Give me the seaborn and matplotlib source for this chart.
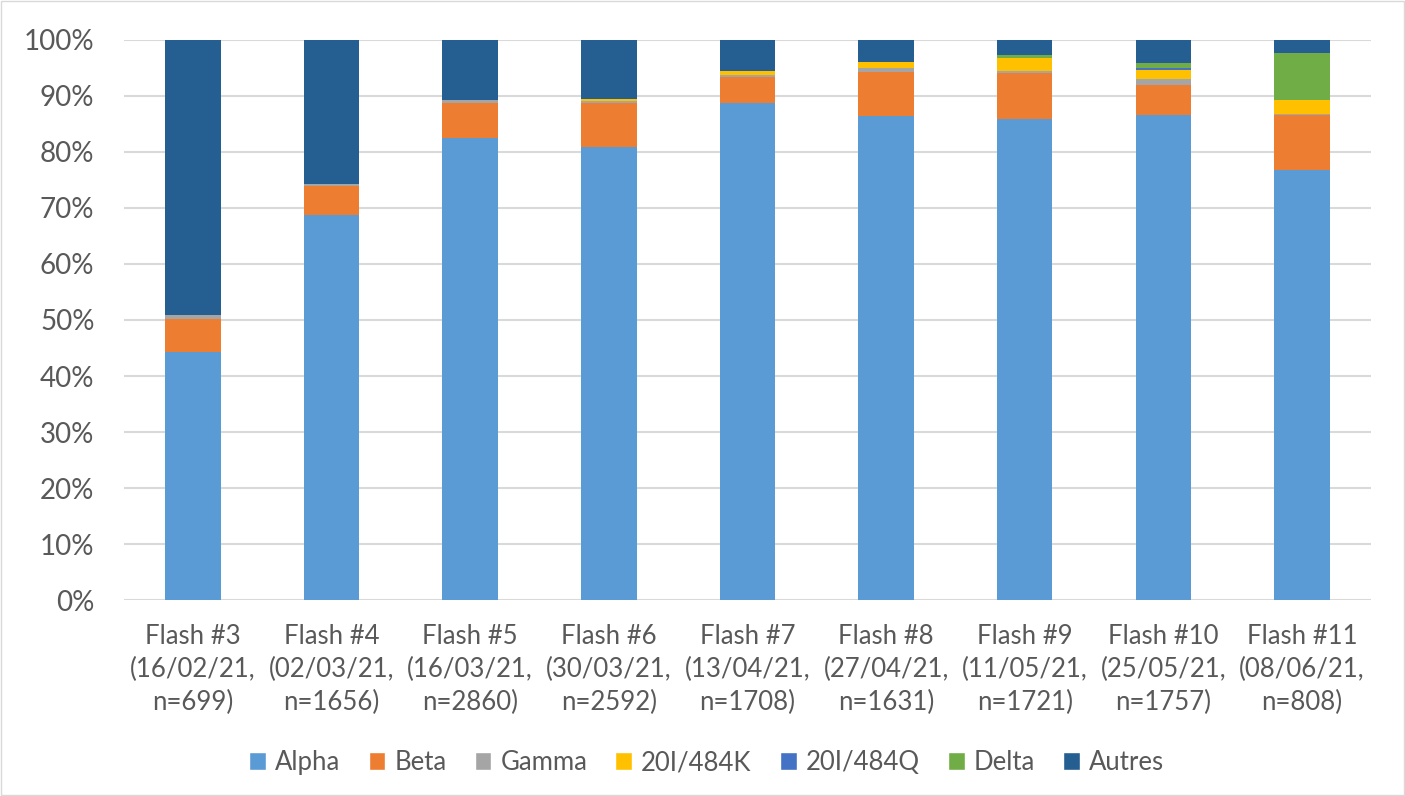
import numpy as np
import pandas as pd
import matplotlib
matplotlib.use('Agg')
import matplotlib.pyplot as plt
from matplotlib.patches import Patch
import seaborn as sns

# Values (% of sequences per flash survey)
flashes = ['Flash #3\n(16/02/21,\nn=699)', 'Flash #4\n(02/03/21,\nn=1656)', 'Flash #5\n(16/03/21,\nn=2860)',
           'Flash #6\n(30/03/21,\nn=2592)', 'Flash #7\n(13/04/21,\nn=1708)', 'Flash #8\n(27/04/21,\nn=1631)',
           'Flash #9\n(11/05/21,\nn=1721)', 'Flash #10\n(25/05/21,\nn=1757)', 'Flash #11\n(08/06/21,\nn=808)']
variants = ['Alpha', 'Beta', 'Gamma', '20I/484K', '20I/484Q', 'Delta', 'Autres']
alpha = [44.3, 68.7, 82.4, 80.8, 88.7, 86.4, 85.9, 86.5, 76.8]
beta = [5.9, 5.2, 6.4, 7.9, 4.6, 7.8, 8.1, 5.5, 9.7]
gamma = [0.7, 0.3, 0.5, 0.3, 0.4, 0.7, 0.5, 1.0, 0.3]
k484 = [0.0, 0.0, 0.0, 0.4, 0.8, 1.2, 2.3, 1.6, 2.4]
q484 = [0.0, 0.0, 0.0, 0.0, 0.0, 0.0, 0.0, 0.3, 0.0]
delta = [0.0, 0.0, 0.0, 0.0, 0.0, 0.0, 0.4, 1.0, 8.5]
autres = [49.1, 25.8, 10.7, 10.6, 5.5, 3.9, 2.8, 4.1, 2.3]
colors = ['#5B9BD5', '#ED7D31', '#A5A5A5', '#FFC000', '#4472C4', '#70AD47', '#255E91']

df = pd.DataFrame({'flash': flashes, 'Alpha': alpha, 'Beta': beta, 'Gamma': gamma,
                   '20I/484K': k484, '20I/484Q': q484, 'Delta': delta, 'Autres': autres})
# normalise to 100 and stack
tot = df[variants].sum(axis=1)
cum = df[variants].div(tot, axis=0).cumsum(axis=1)

sns.set_style('white')
plt.rcParams['font.family'] = ['Lato', 'DejaVu Sans']

fig = plt.figure(figsize=(14.05, 7.96), dpi=100)
ax = fig.add_axes([0.088, 0.246, 0.888, 0.704])

# draw from the top of the stack down so lower segments overlay
for v, c in reversed(list(zip(variants, colors))):
    sns.barplot(x=df['flash'], y=cum[v], color=c, width=0.4, linewidth=0, saturation=1, ax=ax, zorder=3)

ax.set_ylim(0, 1)
ax.set_xlim(-0.5, len(flashes) - 0.5)
ax.set_yticks(np.arange(0, 1.01, 0.1))
ax.set_yticklabels(['%d%%' % (t * 100) for t in np.arange(0, 1.01, 0.1).round(1)])
ax.yaxis.grid(True, color='#d9d9d9', linewidth=1.5, zorder=0)
ax.set_axisbelow(True)
for s in ax.spines.values():
    s.set_visible(False)
ax.set_xlabel('')
ax.set_ylabel('')
ax.tick_params(axis='both', length=0, labelcolor='#595959')
ax.tick_params(axis='x', pad=17, labelsize=18.5)
ax.tick_params(axis='y', pad=21, labelsize=20)
for lab in ax.get_xticklabels():
    lab.set_linespacing(1.4)

handles = [Patch(facecolor=c, label=v) for v, c in zip(variants, colors)]
fig.legend(handles=handles, loc='center', bbox_to_anchor=(0.503, 0.042), ncol=7, frameon=False,
           fontsize=18.5, labelcolor='#595959', handlelength=0.65, handleheight=0.65,
           handletextpad=0.35, columnspacing=1.1)

fig.patches.append(plt.Rectangle((0.001, 0.001), 0.998, 0.998, transform=fig.transFigure,
                                 fill=False, edgecolor='#d9d9d9', linewidth=1))
fig.savefig('out.png', dpi=100)
